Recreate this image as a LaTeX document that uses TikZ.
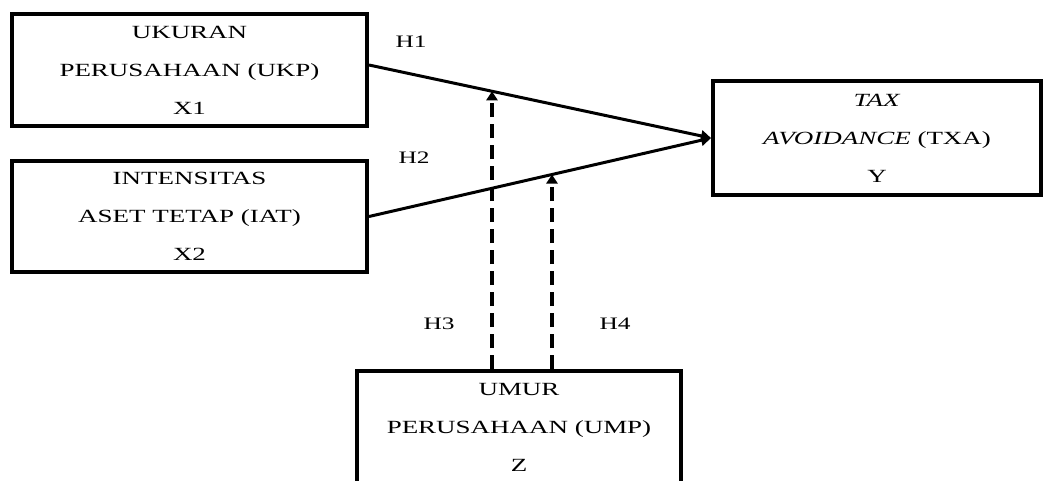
\documentclass[tikz,border=0pt]{standalone}
\usepackage{fontspec}
\setmainfont[FakeStretch=1.45]{Liberation Serif}
\usetikzlibrary{arrows.meta}
\begin{document}
\begin{tikzpicture}[x=1pt,y=-1pt,
  box/.style={draw, line width=4pt, inner sep=0pt, align=center,
              font=\fontsize{18.6}{38}\selectfont},
  hlab/.style={font=\fontsize{17.5}{18}\selectfont},
  rel/.style={line width=3pt, -{Triangle[length=10pt,width=11pt]}},
  modr/.style={line width=4pt, dash pattern=on 14pt off 7pt,
              -{Triangle[length=9pt,width=11pt]}}]
\useasboundingbox (0,0) rectangle (1048,480);
\clip (0,0) rectangle (1048,480);
\fill[white] (0,0) rectangle (1048,480);

\node[box, minimum width=355pt, minimum height=112pt] (ukp) at (189.5,70)
  {UKURAN\\PERUSAHAAN (UKP)\\X1};
\node[box, minimum width=355pt, minimum height=111pt] (iat) at (189.5,216.5)
  {INTENSITAS\\ASET TETAP (IAT)\\X2};
\node[box, minimum width=328pt, minimum height=114pt] (txa) at (877,138)
  {\textit{TAX}\\\textit{AVOIDANCE} (TXA)\\Y};
\node[box, minimum width=324pt, minimum height=112pt] (ump) at (519,427)
  {UMUR\\PERUSAHAAN (UMP)\\Z};

\coordinate (u1) at ([yshift=5pt]ukp.east);
\draw[rel] (u1) -- (txa.west);
\draw[rel] (iat.east) -- (txa.west);

\path (intersection of u1--txa.west and 492,0--492,480) coordinate (m1);
\path (intersection of iat.east--txa.west and 552,0--552,480) coordinate (m2);
\draw[modr] (ump.north -| m1) -- (m1);
\draw[modr] (ump.north -| m2) -- (m2);

\node[hlab] (h1) at (411,42) {H1};
\node[hlab] (h2) at (414,158) {H2};
\node[hlab] (h3) at (439,324) {H3};
\node[hlab] (h4) at (615,324) {H4};
\end{tikzpicture}
\end{document}
